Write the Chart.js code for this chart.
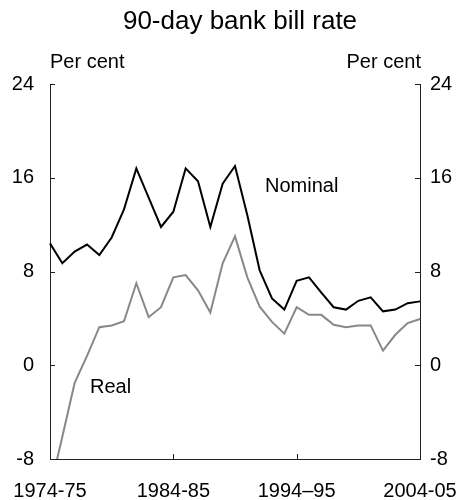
<html>
  <head>
    <script src="https://cdn.jsdelivr.net/npm/chart.js@4.4.1/dist/chart.umd.min.js"></script>
    <style>
      body { margin: 0; background: #fff; }
    </style>
  </head>
  <body>
    <canvas id="billChart" width="463" height="500"></canvas>
    <script>
const years = ["1974-75", "1975-76", "1976-77", "1977-78", "1978-79", "1979-80", "1980-81",
  "1981-82", "1982-83", "1983-84", "1984-85", "1985-86", "1986-87", "1987-88", "1988-89",
  "1989-90", "1990-91", "1991-92", "1992-93", "1993-94", "1994–95", "1995-96", "1996-97",
  "1997-98", "1998-99", "1999-00", "2000-01", "2001-02", "2002-03", "2003-04", "2004-05"];
const shownYears = ["1974-75", "1984-85", "1994–95", "2004-05"];
const nominal = [10.4, 8.7, 9.7, 10.3, 9.4, 10.9, 13.3, 16.8, 14.3, 11.8, 13.1, 16.8, 15.7, 11.8,
  15.5, 17.0, 12.8, 8.1, 5.7, 4.75, 7.2, 7.5, 6.2, 4.95, 4.75, 5.5, 5.8, 4.6, 4.75, 5.3, 5.45];
const real = [-10.6, -6.1, -1.5, 0.8, 3.25, 3.4, 3.75, 7.0, 4.1, 4.95, 7.5, 7.7, 6.4, 4.5,
  8.7, 11.0, 7.5, 5.0, 3.7, 2.7, 4.95, 4.3, 4.3, 3.45, 3.25, 3.4, 3.4, 1.25, 2.6, 3.6, 3.95];
const yTicks = [-8, 0, 8, 16, 24];

const FONT = "'Liberation Sans', Arial, sans-serif";
const axisColor = '#222';

// inward tick marks plus the titles and series labels
const decorations = {
  id: 'decorations',
  afterDraw(chart) {
    const ctx = chart.ctx;
    const area = chart.chartArea;
    const x = chart.scales.x;
    const y = chart.scales.y;
    ctx.save();
    ctx.strokeStyle = axisColor;
    ctx.lineWidth = 1;
    ctx.beginPath();
    yTicks.forEach(v => {
      const py = Math.round(y.getPixelForValue(v)) + 0.5;
      ctx.moveTo(area.left, py); ctx.lineTo(area.left + 5, py);
      ctx.moveTo(area.right, py); ctx.lineTo(area.right - 5, py);
    });
    shownYears.forEach(lbl => {
      const px = Math.round(x.getPixelForValue(years.indexOf(lbl))) + 0.5;
      ctx.moveTo(px, area.bottom); ctx.lineTo(px, area.bottom - 5);
    });
    ctx.stroke();

    ctx.fillStyle = '#000';
    ctx.textBaseline = 'middle';
    ctx.font = '26px ' + FONT;
    ctx.textAlign = 'center';
    ctx.fillText('90-day bank bill rate', 240, 22);
    ctx.font = '20px ' + FONT;
    ctx.textAlign = 'left';
    ctx.fillText('Per cent', area.left, 62);
    ctx.textAlign = 'right';
    ctx.fillText('Per cent', area.right + 1, 62);
    ctx.textAlign = 'left';
    ctx.fillText('Nominal', 265, 186);
    ctx.fillText('Real', 90, 387);
    ctx.restore();
  }
};

const ctx = document.getElementById('billChart').getContext('2d');
new Chart(ctx, {
  type: 'line',
  data: {
    labels: years,
    datasets: [
      { label: 'Nominal', data: nominal, borderColor: '#000', borderWidth: 2, pointRadius: 0, tension: 0, yAxisID: 'y' },
      { label: 'Real', data: real, borderColor: '#888', borderWidth: 2, pointRadius: 0, tension: 0, yAxisID: 'y' }
    ]
  },
  options: {
    responsive: false,
    animation: false,
    layout: { padding: { top: 84, left: 0, right: 0, bottom: 0 } },
    plugins: { legend: { display: false }, tooltip: { enabled: false }, title: { display: false } },
    scales: {
      x: {
        type: 'category',
        offset: false,
        // invisible tick length pushes the labels down without widening the side padding
        grid: { display: false, drawTicks: true, tickLength: 20 },
        border: { display: true, color: axisColor, width: 1 },
        ticks: {
          autoSkip: false, maxRotation: 0, padding: 0, color: '#000',
          font: { family: FONT, size: 20 },
          callback: (value) => shownYears.includes(years[value]) ? years[value] : ''
        },
        afterFit: (s) => { s.height = 41; }
      },
      y: {
        position: 'left', min: -8, max: 24,
        grid: { display: false, drawTicks: false },
        border: { display: true, color: axisColor, width: 1 },
        ticks: { stepSize: 8, padding: 16, color: '#000', font: { family: FONT, size: 20 } },
        afterFit: (s) => { s.width = 50; }
      },
      y2: {
        position: 'right', min: -8, max: 24,
        grid: { display: false, drawTicks: false },
        border: { display: true, color: axisColor, width: 1 },
        ticks: { stepSize: 8, padding: 10, color: '#000', font: { family: FONT, size: 20 } },
        afterFit: (s) => { s.width = 43; }
      }
    }
  },
  plugins: [decorations]
});
    </script>
  </body>
</html>
